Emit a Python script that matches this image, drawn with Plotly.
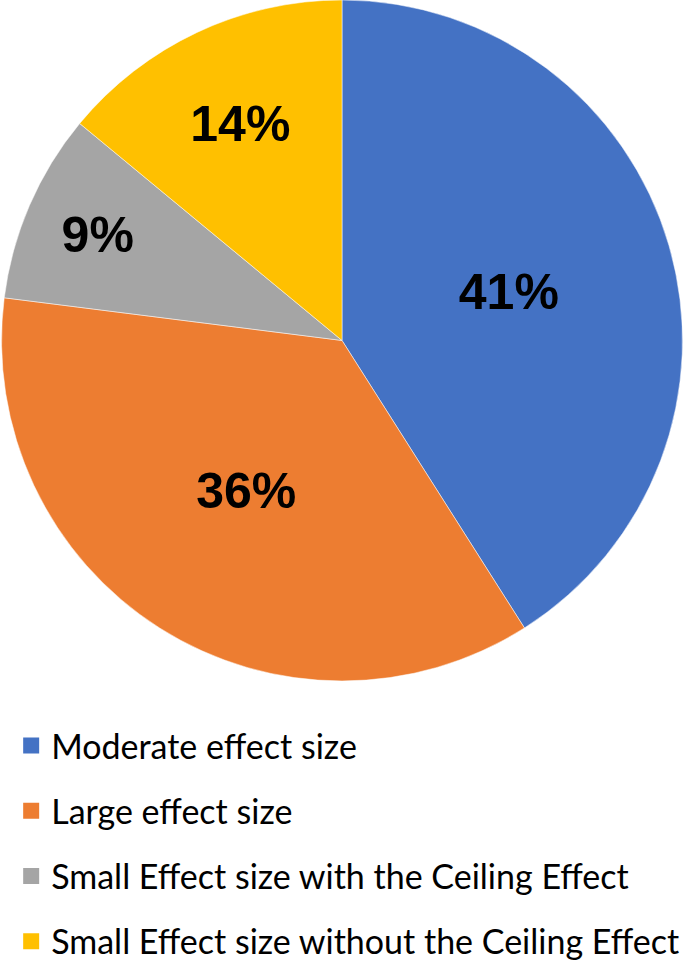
import plotly.graph_objects as go

labels = ["Moderate effect size", "Large effect size",
          "Small Effect size with the Ceiling Effect",
          "Small Effect size without the Ceiling Effect"]
shares = [41, 36, 9, 14]
colors = ["#4472C4", "#ED7D31", "#A5A5A5", "#FFC000"]

fig = go.Figure()

fig.add_trace(go.Pie(
    labels=labels,
    values=shares,
    sort=False,
    direction="clockwise",
    rotation=0,
    marker=dict(colors=colors, line=dict(color="white", width=0.5)),
    textinfo="percent",
    texttemplate="%{percent:.0%}",
    textposition="inside",
    insidetextorientation="horizontal",
    textfont=dict(family="Liberation Sans", size=50, color="black", weight="bold"),
    domain=dict(x=[0.0, 0.98], y=[0.2987, 1.0]),
    showlegend=False,
    hoverinfo="label+percent",
))

# legend entries, one group each so the rows can be spaced like the original
for i, (name, col) in enumerate(zip(labels, colors)):
    fig.add_trace(go.Scatter(
        x=[None], y=[None], mode="markers", name=name,
        legendgroup="g%d" % i,
        marker=dict(symbol="square", size=16, color=col),
    ))

fig.update_layout(
    width=698, height=971,
    margin=dict(l=0, r=0, t=0, b=0, autoexpand=False),
    paper_bgcolor="white",
    plot_bgcolor="white",
    xaxis=dict(visible=False),
    yaxis=dict(visible=False),
    legend=dict(
        x=0.016, xanchor="left",
        y=1 - 717 / 971, yanchor="top",
        font=dict(family="Lato", size=34, color="black"),
        tracegroupgap=18,
        bgcolor="rgba(0,0,0,0)",
    ),
)

# drop the browser's default body margin so the figure sits at the page corner
fig.write_html("out.html", config={"displayModeBar": False},
               post_script="document.body.style.margin='0';")
